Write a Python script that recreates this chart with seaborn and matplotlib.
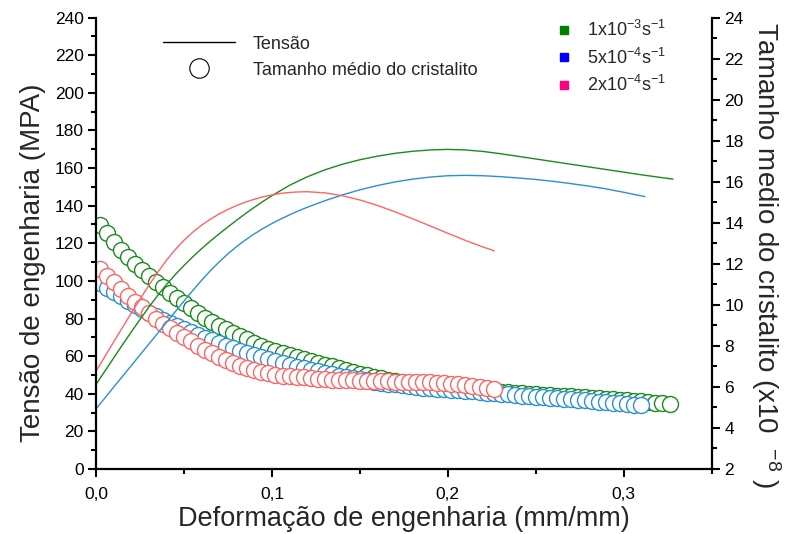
import matplotlib
matplotlib.use("Agg")
import matplotlib.pyplot as plt
from matplotlib.lines import Line2D
from matplotlib.ticker import MultipleLocator, FuncFormatter
import seaborn as sns

sns.set_theme(style="ticks")
plt.rcParams["font.family"] = ["Liberation Sans", "DejaVu Sans"]
plt.rcParams["mathtext.fontset"] = "custom"
plt.rcParams["mathtext.rm"] = "Liberation Sans"
plt.rcParams["mathtext.it"] = "Liberation Sans:italic"
plt.rcParams["mathtext.bf"] = "Liberation Sans:bold"

# ---- strain rates ----
rate_labels = [r"1x10$^{-3}$s$^{-1}$", r"5x10$^{-4}$s$^{-1}$", r"2x10$^{-4}$s$^{-1}$"]
legend_colors = ["#008000", "#0000ff", "#ff0080"]
line_colors = ["#1a8a1a", "#2b8fd4", "#ff6464"]

# ---- engineering stress curves (MPa) ----
strain_t_fast = [0.000, 0.005, 0.010, 0.015, 0.020, 0.025, 0.030, 0.035, 0.040, 0.045,
                 0.050, 0.055, 0.060, 0.065, 0.070, 0.075, 0.080, 0.085, 0.090, 0.095,
                 0.100, 0.11, 0.12, 0.13, 0.14, 0.15, 0.16, 0.17, 0.18, 0.19, 0.20,
                 0.21, 0.22, 0.23, 0.24, 0.25, 0.26, 0.27, 0.28, 0.29, 0.30, 0.31,
                 0.32, 0.328]
stress_fast = [45.0, 52.0, 59.0, 66.0, 72.8, 79.5, 86.0, 92.2, 98.0, 103.3,
               108.2, 112.8, 117.1, 121.2, 125.0, 128.7, 132.3, 135.8, 139.1, 142.3,
               145.3, 150.8, 155.3, 159.0, 162.0, 164.4, 166.3, 167.8, 168.9, 169.6, 169.9,
               169.6, 168.8, 167.6, 166.2, 164.8, 163.4, 162.0, 160.6, 159.2, 157.8, 156.4,
               155.1, 154.1]

strain_t_mid = [0.000, 0.005, 0.010, 0.015, 0.020, 0.025, 0.030, 0.035, 0.040, 0.045,
                0.050, 0.055, 0.060, 0.065, 0.070, 0.075, 0.080, 0.085, 0.090, 0.095,
                0.100, 0.105, 0.110, 0.115, 0.120, 0.13, 0.14, 0.15, 0.16, 0.17, 0.18,
                0.19, 0.20, 0.21, 0.22, 0.23, 0.24, 0.25, 0.26, 0.27, 0.28, 0.29,
                0.30, 0.312]
stress_mid = [32.0, 37.7, 43.5, 49.2, 54.9, 60.7, 66.4, 72.1, 77.9, 83.6,
              89.3, 94.9, 100.3, 105.4, 110.1, 114.4, 118.3, 121.8, 125.0, 127.9,
              130.5, 132.9, 135.1, 137.2, 139.1, 142.6, 145.7, 148.4, 150.7, 152.6, 154.1,
              155.2, 155.9, 156.1, 155.9, 155.4, 154.7, 153.9, 152.9, 151.7, 150.4, 148.9,
              147.1, 144.8]

strain_t_slow = [0.000, 0.005, 0.010, 0.015, 0.020, 0.025, 0.030, 0.035, 0.040, 0.045,
                 0.050, 0.055, 0.060, 0.065, 0.070, 0.075, 0.080, 0.085, 0.090, 0.095,
                 0.100, 0.105, 0.110, 0.115, 0.120, 0.13, 0.14, 0.15, 0.16, 0.17, 0.18,
                 0.19, 0.20, 0.21, 0.22, 0.2264]
stress_slow = [52.0, 59.8, 67.5, 75.2, 82.8, 90.3, 97.6, 104.5, 110.9, 116.6,
               121.6, 125.9, 129.6, 132.8, 135.6, 138.0, 140.1, 141.9, 143.4, 144.7,
               145.7, 146.5, 147.0, 147.3, 147.4, 146.8, 145.3, 143.0, 140.1, 136.7, 133.0,
               129.2, 125.3, 121.5, 118.0, 116.0]

# ---- mean crystallite size (x10^-8) ----
strain_c = [0.002, 0.006, 0.010, 0.014, 0.018, 0.022, 0.026, 0.030, 0.034, 0.038,
            0.042, 0.046, 0.050, 0.054, 0.058, 0.062, 0.066, 0.070, 0.074, 0.078,
            0.082, 0.086, 0.090, 0.094, 0.098, 0.102, 0.106, 0.110, 0.114, 0.118,
            0.122, 0.126, 0.130, 0.134, 0.138, 0.142, 0.146, 0.150, 0.154, 0.158,
            0.162, 0.166, 0.170, 0.174, 0.178, 0.182, 0.186, 0.190, 0.194, 0.198,
            0.202, 0.206, 0.210, 0.214, 0.218, 0.222, 0.226, 0.230, 0.234, 0.238,
            0.242, 0.246, 0.250, 0.254, 0.258, 0.262, 0.266, 0.270, 0.274, 0.278,
            0.282, 0.286, 0.290, 0.294, 0.298, 0.302, 0.306, 0.310, 0.314, 0.318,
            0.322, 0.326]

size_fast = [13.89, 13.48, 13.08, 12.69, 12.32, 11.99, 11.68, 11.41, 11.13, 10.86,
             10.60, 10.32, 10.07, 9.83, 9.59, 9.36, 9.16, 8.98, 8.80, 8.63,
             8.47, 8.32, 8.16, 8.01, 7.87, 7.75, 7.64, 7.54, 7.45, 7.35,
             7.26, 7.17, 7.09, 7.00, 6.90, 6.81, 6.72, 6.64, 6.57, 6.49,
             6.42, 6.35, 6.29, 6.24, 6.18, 6.13, 6.09, 6.04, 6.01, 5.97,
             5.93, 5.91, 5.88, 5.85, 5.82, 5.80, 5.78, 5.75, 5.73, 5.70,
             5.69, 5.67, 5.64, 5.62, 5.60, 5.58, 5.57, 5.54, 5.52, 5.49,
             5.47, 5.45, 5.43, 5.40, 5.37, 5.35, 5.32, 5.29, 5.26, 5.23,
             5.20, 5.16]

size_mid = [11.05, 10.83, 10.62, 10.41, 10.20, 9.99, 9.79, 9.61, 9.44, 9.28,
            9.12, 8.98, 8.83, 8.68, 8.54, 8.40, 8.27, 8.14, 8.01, 7.89,
            7.77, 7.66, 7.55, 7.45, 7.34, 7.24, 7.15, 7.06, 6.98, 6.90,
            6.83, 6.76, 6.68, 6.61, 6.54, 6.48, 6.43, 6.37, 6.32, 6.26,
            6.21, 6.16, 6.12, 6.08, 6.04, 6.01, 5.97, 5.94, 5.91, 5.89,
            5.86, 5.83, 5.80, 5.78, 5.75, 5.72, 5.69, 5.67, 5.64, 5.61,
            5.58, 5.56, 5.53, 5.50, 5.47, 5.45, 5.42, 5.39, 5.36, 5.34,
            5.31, 5.28, 5.25, 5.23, 5.20, 5.17, 5.14, 5.10]

size_slow = [11.76, 11.42, 11.09, 10.76, 10.44, 10.16, 9.87, 9.60, 9.33, 9.09,
             8.86, 8.64, 8.43, 8.22, 8.01, 7.81, 7.64, 7.47, 7.32, 7.17,
             7.04, 6.92, 6.82, 6.73, 6.66, 6.59, 6.55, 6.51, 6.48, 6.46,
             6.43, 6.40, 6.38, 6.36, 6.35, 6.34, 6.32, 6.31, 6.30, 6.29,
             6.28, 6.27, 6.26, 6.25, 6.24, 6.24, 6.23, 6.22, 6.20, 6.18,
             6.15, 6.13, 6.10, 6.05, 6.01, 5.95, 5.89]

stress_series = [(strain_t_fast, stress_fast), (strain_t_mid, stress_mid), (strain_t_slow, stress_slow)]
size_series = [size_fast, size_mid, size_slow]

fig = plt.figure(figsize=(7.97, 5.34), dpi=100)
ax1 = fig.add_axes([0.1205, 0.1217, 0.7725, 0.8455])
ax2 = ax1.twinx()

# crystallite size: white-filled open circles on the right axis
for vals, col in zip(size_series, line_colors):
    sns.lineplot(x=strain_c[:len(vals)], y=vals, ax=ax2, color=col, marker="o",
                 linestyle="", markersize=11.5, markerfacecolor="white",
                 markeredgecolor=col, markeredgewidth=1.0, legend=False,
                 errorbar=None)

# engineering stress curves on the left axis
for (xs, ys), col in zip(stress_series, line_colors):
    sns.lineplot(x=xs, y=ys, ax=ax1, color=col, linewidth=1.0, legend=False,
                 errorbar=None)

ax1.set_zorder(ax2.get_zorder() + 1)
ax1.patch.set_visible(False)

ax1.set_xlim(0, 0.35)
ax1.set_ylim(0, 240)
ax2.set_ylim(2, 24)

ax1.xaxis.set_major_locator(MultipleLocator(0.1))
ax1.xaxis.set_minor_locator(MultipleLocator(0.05))
ax1.xaxis.set_major_formatter(FuncFormatter(lambda v, p: f"{v:.1f}".replace(".", ",")))
ax1.yaxis.set_major_locator(MultipleLocator(20))
ax1.yaxis.set_minor_locator(MultipleLocator(10))
ax2.yaxis.set_major_locator(MultipleLocator(2))
ax2.yaxis.set_minor_locator(MultipleLocator(1))

for ax in (ax1, ax2):
    ax.tick_params(which="major", direction="out", length=6, width=1.5,
                   labelsize=12.5, colors="black", pad=3)
    ax.tick_params(which="minor", direction="out", length=3.5, width=1.5,
                   colors="black")
    for s in ax.spines.values():
        s.set_linewidth(1.6)
        s.set_color("black")
ax1.tick_params(axis="x", which="major", pad=7)

ax1.spines["top"].set_visible(False)
ax1.spines["right"].set_visible(False)
ax2.spines["top"].set_visible(False)
ax2.spines["left"].set_visible(False)
ax2.spines["bottom"].set_visible(False)
ax1.tick_params(axis="y", which="both", left=True, right=False)
ax1.tick_params(axis="x", which="both", bottom=True, top=False)
ax2.tick_params(axis="y", which="both", right=True, left=False)

ax1.set_xlabel("Deformação de engenharia (mm/mm)", fontsize=19.5, labelpad=3)
ax1.set_ylabel("Tensão de engenharia (MPA)", fontsize=20)
ax2.set_ylabel(r"Tamanho medio do cristalito (x10  $^{-8}$ )", fontsize=20,
               rotation=270, va="center")
ax1.yaxis.set_label_coords(-0.082, 0.456)
ax2.yaxis.set_label_coords(1.088, 0.474)
ax1.grid(False)
ax2.grid(False)

# legend: quantity
h1 = [Line2D([], [], color="black", lw=1.0),
      Line2D([], [], marker="o", ls="", markersize=14, markerfacecolor="white",
             markeredgecolor="black", markeredgewidth=0.8)]
leg1 = ax1.legend(h1, ["Tensão", "Tamanho médio do cristalito"], loc="upper left",
                  bbox_to_anchor=(0.108, 0.96), frameon=False, fontsize=13,
                  handlelength=4.0, handletextpad=1.0, labelspacing=0.5,
                  borderaxespad=0, borderpad=0)
ax1.add_artist(leg1)

# legend: strain rate
h2 = [Line2D([], [], marker="s", ls="", color=c, markersize=6) for c in legend_colors]
ax1.legend(h2, rate_labels, loc="upper left", bbox_to_anchor=(0.745, 0.995),
           frameon=False, fontsize=13, handlelength=1.0, handletextpad=0.8,
           labelspacing=0.42, borderaxespad=0, borderpad=0)

fig.savefig("out.png", dpi=100)
